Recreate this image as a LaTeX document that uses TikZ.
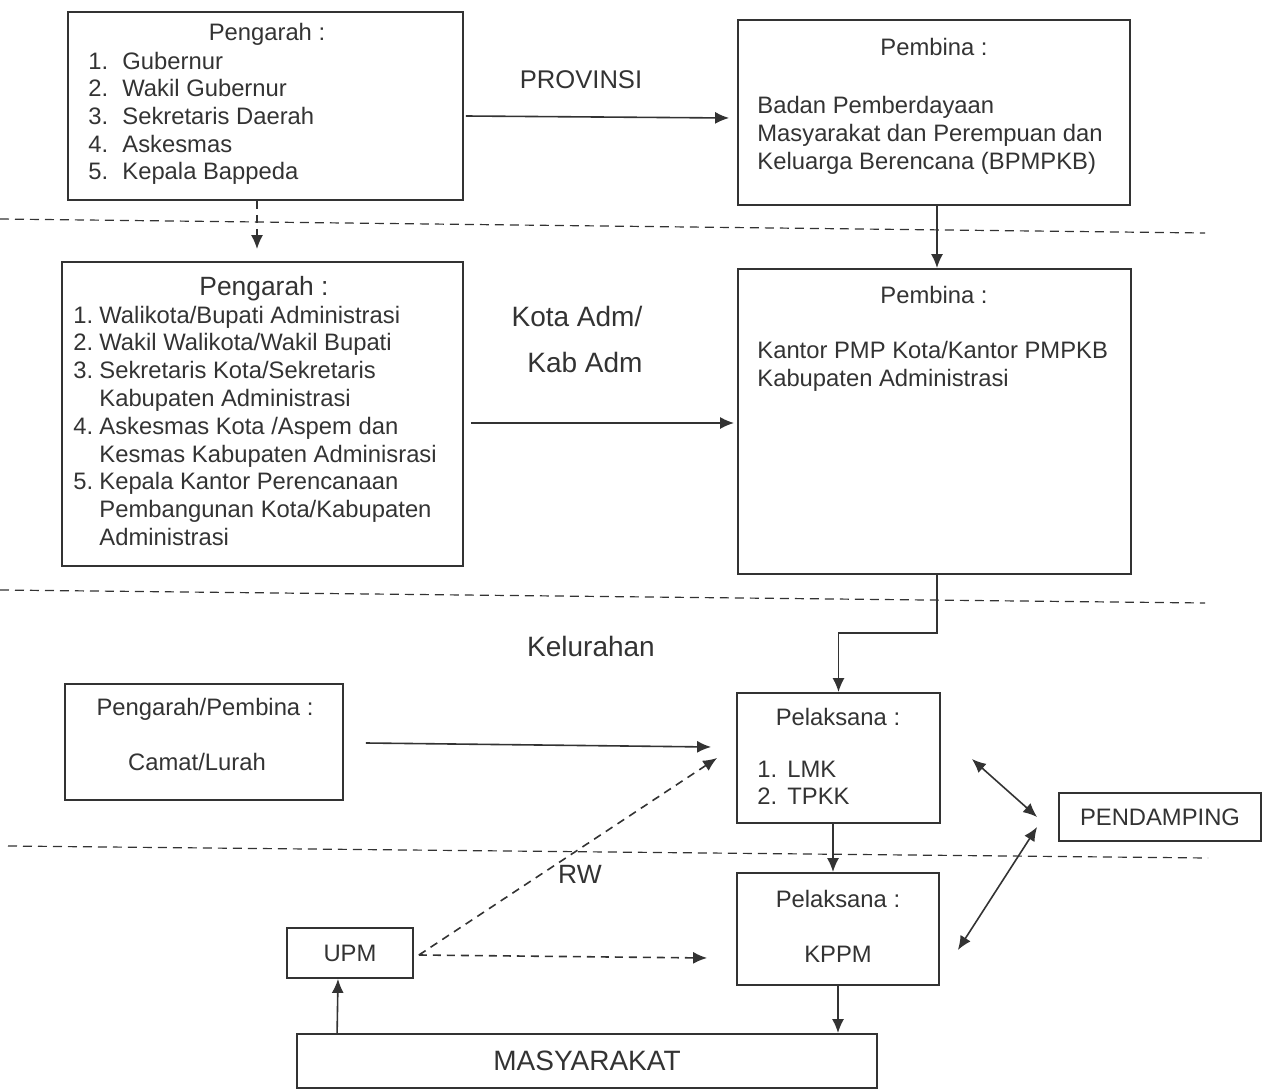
\documentclass[tikz,border=0pt]{standalone}
\usepackage{fontspec}
\setmainfont{Liberation Sans}
\usetikzlibrary{arrows.meta,calc}
\definecolor{ink}{HTML}{333333}
\newcommand{\fnorm}{\fontsize{11.9}{13.8}\selectfont}
\newcommand{\fbig}{\fontsize{14}{16.8}\selectfont}

\begin{document}
\begin{tikzpicture}[x=0.5pt,y=-0.5pt,
  box/.style={draw=ink,line width=0.9pt,inner sep=0pt,font=\fnorm,text=ink},
  txt/.style={font=\fnorm,text=ink,inner sep=0pt},
  lbl/.style={font=\fbig,text=ink,inner sep=0pt},
  arr/.style={draw=ink,line width=0.8pt,-{Latex[length=7pt,width=6pt]}},
  darr/.style={arr,dash pattern=on 4pt off 3pt},
  both/.style={draw=ink,line width=0.8pt,{Latex[length=7pt,width=6pt]}-{Latex[length=7pt,width=6pt]}},
  sep/.style={draw=ink,line width=0.6pt,dash pattern=on 4.5pt off 3pt}]
\useasboundingbox (0,0) rectangle (1271,1092);

% levels
\draw[sep] (0,219) -- (1205,233);
\draw[sep] (0,590) -- (1205,603);
\draw[sep] (8,846) -- (1208,858);
\node[txt,font=\fontsize{12.8}{15}\selectfont,anchor=base] (prov) at (581,88) {PROVINSI};
\node[lbl,anchor=base] (kota) at (577,326) {Kota Adm/};
\node[lbl,anchor=base] (kab) at (585,372) {Kab Adm};
\node[lbl,anchor=base] (kel-lbl) at (591,656) {Kelurahan};
\node[txt,font=\fontsize{13.2}{15}\selectfont,anchor=base] (rw) at (580,883) {RW};

% boxes
\node[box,minimum width=197.5pt,minimum height=94pt] (tl) at (265.5,106) {};
\node[box,minimum width=196pt,minimum height=92.5pt] (tr) at (934,112.5) {};
\node[box,minimum width=200.5pt,minimum height=152pt] (ml) at (262.5,414) {};
\node[box,minimum width=196.5pt,minimum height=152.5pt] (mr) at (934.5,421.5) {};
\node[box,minimum width=139pt,minimum height=58pt] (kel) at (204,742) {};
\node[box,minimum width=101.5pt,minimum height=65pt] (lmk) at (838.5,758) {};
\node[box,minimum width=101pt,minimum height=24pt] (pend) at (1160,817) {PENDAMPING};
\node[box,minimum width=101pt,minimum height=56pt] (kppm) at (838,929) {};
\node[box,minimum width=63pt,minimum height=25pt] (upm) at (350,953) {UPM};
\node[box,font=\fbig,minimum width=290pt,minimum height=27pt] (mas) at (587,1061) {MASYARAKAT};

% provinsi
\node[txt,anchor=base] (tl-h) at (267,40) {Pengarah :};
\foreach \i/\t in {1/Gubernur,2/Wakil Gubernur,3/Sekretaris Daerah,4/Askesmas,5/Kepala Bappeda}{
  \node[txt,anchor=base west] (tl-n\i) at (88,{69+27.7*(\i-1)}) {\i.};
  \node[txt,anchor=base west] (tl-t\i) at (122,{69+27.7*(\i-1)}) {\t};
}
\node[txt,anchor=base] (tr-h) at (934,55) {Pembina :};
\foreach \t [count=\k] in {Badan Pemberdayaan,Masyarakat dan Perempuan dan,Keluarga Berencana (BPMPKB)}
  \node[txt,anchor=base west] (tr-t\k) at (757,{113+28*(\k-1)}) {\t};

% kota / kab adm
\node[txt,font=\fontsize{13.2}{15}\selectfont,anchor=base] (ml-h) at (264,295) {Pengarah :};
\foreach \n/\k in {1/1,2/2,3/3,4/5,5/7}
  \node[txt,anchor=base west] (ml-n\n) at (73,{323+27.8*(\k-1)}) {\n.};
\foreach \t [count=\k] in {{Walikota/Bupati Administrasi},{Wakil Walikota/Wakil Bupati},{Sekretaris Kota/Sekretaris},{Kabupaten Administrasi},{Askesmas Kota /Aspem dan},{Kesmas Kabupaten Adminisrasi},{Kepala Kantor Perencanaan},{Pembangunan Kota/Kabupaten},{Administrasi}}
  \node[txt,anchor=base west] (ml-t\k) at (99,{323+27.8*(\k-1)}) {\t};
\node[txt,anchor=base] (mr-h) at (934,303) {Pembina :};
\node[txt,anchor=base west] (mr-t1) at (757,358) {Kantor PMP Kota/Kantor PMPKB};
\node[txt,anchor=base west] (mr-t2) at (757,386) {Kabupaten Administrasi};

% kelurahan / rw
\node[txt,anchor=base] (kel-h) at (205,715) {Pengarah/Pembina :};
\node[txt,anchor=base] (kel-t) at (197,770) {Camat/Lurah};
\node[txt,anchor=base] (lmk-h) at (838,725) {Pelaksana :};
\node[txt,anchor=base west] (lmk-n1) at (757,777) {1.};
\node[txt,anchor=base west] (lmk-t1) at (787,777) {LMK};
\node[txt,anchor=base west] (lmk-n2) at (757,804) {2.};
\node[txt,anchor=base west] (lmk-t2) at (787,804) {TPKK};
\node[txt,anchor=base] (kppm-h) at (838,907) {Pelaksana :};
\node[txt,anchor=base] (kppm-t) at (838,962) {KPPM};

% connectors
\draw[arr] ($(tl.east)+(2,10)$) -- ($(tr.west)+(-8,5.5)$);
\draw[darr] ($(tl.south)+(-8.5,0)$) -- ($(ml.north)+(-5.5,-12)$);
\draw[arr] ($(tr.south)+(3,0)$) -- ($(mr.north)+(2.5,0)$);
\draw[arr] ($(ml.east)+(7,9)$) -- ($(mr.west)+(-3,1.5)$);
\draw[arr] ($(mr.south)+(2.5,0)$) -- ++(0,58) -| (lmk.north);
\draw[arr] ($(kel.east)+(22,1)$) -- ($(lmk.west)+(-25,-11)$);
\draw[arr] ($(lmk.south)+(-5.5,0)$) -- ($(kppm.north)+(-5,0)$);
\draw[arr] (kppm.south) -- (kppm.south |- mas.north);
\draw[arr] ($(mas.north west)+(41,0)$) -- ($(upm.south)+(-12,0)$);
\draw[darr] ($(upm.east)+(5,2)$) -- ($(lmk.west)+(-19,0)$);
\draw[darr] ($(upm.east)+(5,2)$) -- ($(kppm.west)+(-29,29)$);
\draw[both] ($(lmk.east)+(31,1)$) -- ($(pend.west)+(-21,0)$);
\draw[both] ($(kppm.east)+(18,21)$) -- ($(pend.west)+(-21,10)$);
\end{tikzpicture}
\end{document}
